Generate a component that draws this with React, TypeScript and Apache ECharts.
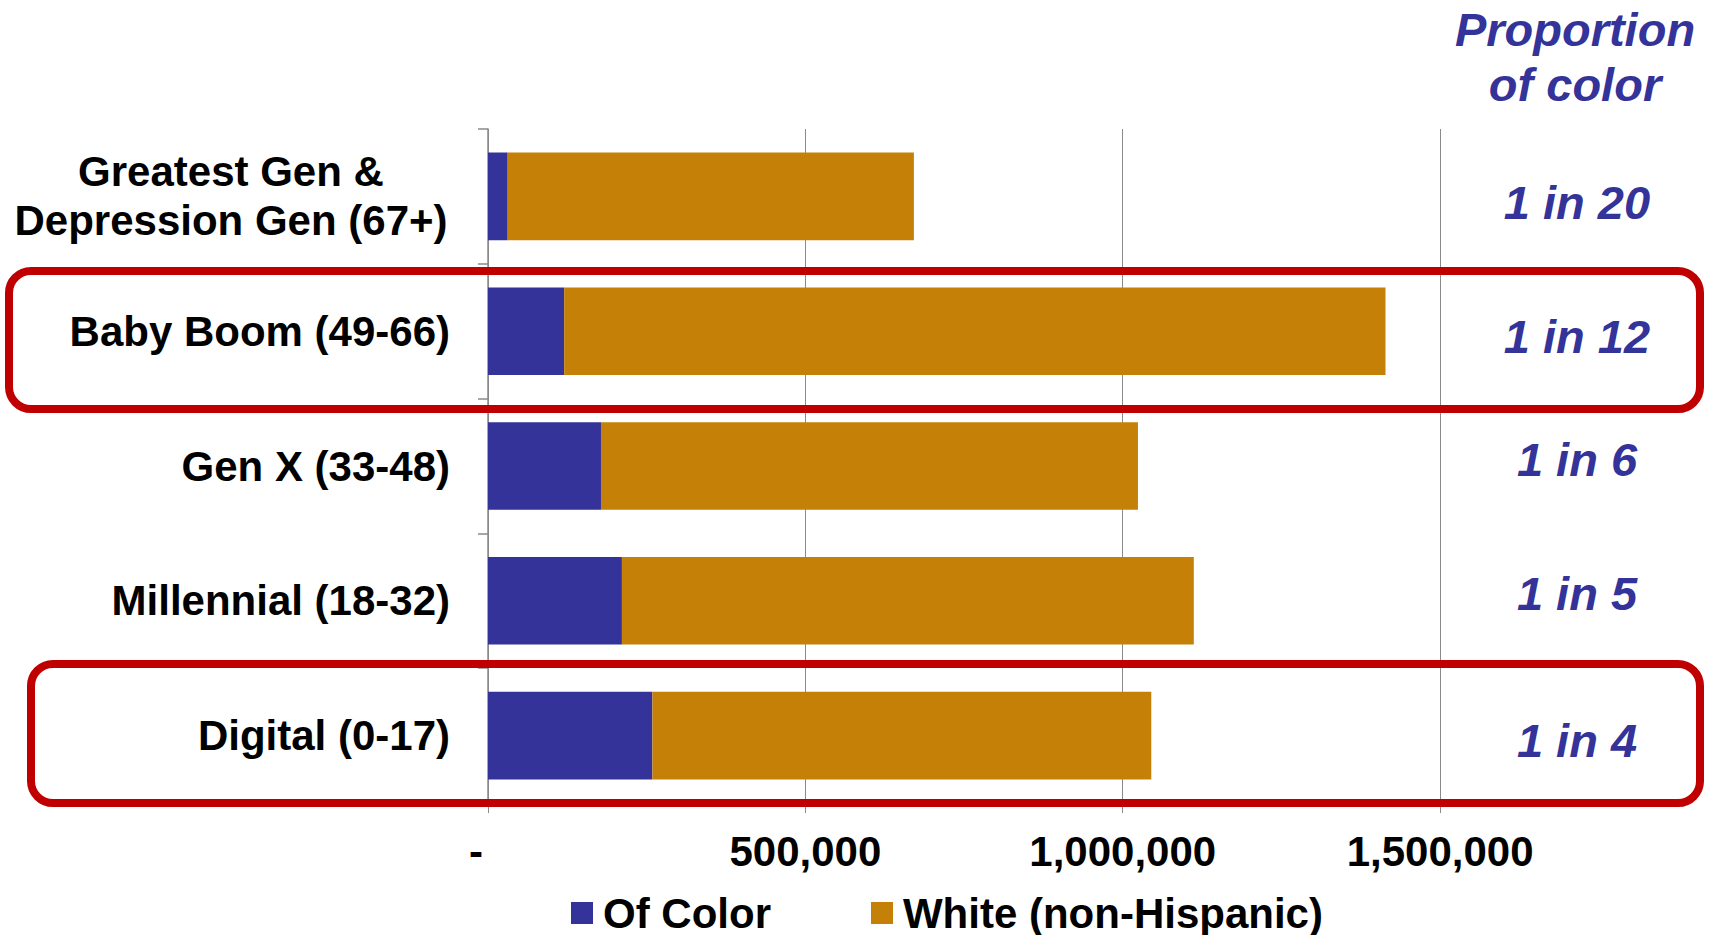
import React, { useEffect, useRef } from "react";
import * as echarts from "echarts";

const categories = [
  "Greatest Gen &\nDepression Gen (67+)",
  "Baby Boom (49-66)",
  "Gen X (33-48)",
  "Millennial (18-32)",
  "Digital (0-17)",
];
const ofColor = [31000, 120000, 178000, 211000, 259000];
const white = [640000, 1294000, 846000, 901000, 786000];
const proportions = ["1 in 20", "1 in 12", "1 in 6", "1 in 5", "1 in 4"];
const proportionY = [202, 336, 459, 593, 740];
const seriesNames = ["Of Color", "White (non-Hispanic)"];

const FONT = "'Liberation Sans', Arial, sans-serif";
const BLUE = "#333399";
const GOLD = "#C58008";
const RED = "#C00000";
const GRAY = "#8A8A8A";

export default function App() {
  const ref = useRef<HTMLDivElement>(null);
  useEffect(() => {
    document.body.style.margin = "0";
    const chart = echarts.init(ref.current!, null, { renderer: "svg" });
    const option: any = {
      animation: false,
      backgroundColor: "#ffffff",
      textStyle: { fontFamily: FONT },
      grid: { left: 488, top: 129, bottom: 132, right: 0, containLabel: false },
      legend: {
        data: seriesNames,
        left: 566,
        top: 887,
        icon: "rect",
        itemWidth: 22,
        itemHeight: 22,
        itemGap: 100,
        textStyle: {
          fontFamily: FONT,
          fontWeight: "bold",
          fontSize: 42,
          color: "#000",
          padding: [0, 0, 0, 5],
        },
      },
      xAxis: {
        type: "value",
        min: 0,
        max: 1930000,
        interval: 500000,
        axisLine: { show: false },
        axisTick: { show: true, length: 10, lineStyle: { color: GRAY, width: 1 } },
        splitLine: { show: true, showMaxLine: false, lineStyle: { color: GRAY, width: 1 } },
        axisLabel: {
          margin: 27,
          showMaxLabel: false,
          fontFamily: FONT,
          fontWeight: "bold",
          fontSize: 42,
          color: "#000",
          formatter: (v: number) =>
            v === 0 ? "{d|-}" : v.toLocaleString("en-US"),
          rich: {
            d: {
              fontFamily: FONT,
              fontWeight: "bold",
              fontSize: 42,
              color: "#000",
              padding: [0, 24, 0, 0],
            },
          },
        },
      },
      yAxis: {
        type: "category",
        data: categories,
        inverse: true,
        axisLine: { show: true, lineStyle: { color: GRAY, width: 1.5 } },
        axisTick: { show: true, length: 10, lineStyle: { color: GRAY, width: 1.5 } },
        splitLine: { show: false },
        axisLabel: {
          margin: 38,
          fontFamily: FONT,
          fontWeight: "bold",
          fontSize: 42,
          color: "#000",
          lineHeight: 49,
          formatter: (v: string) =>
            v.includes("\n")
              ? v
                  .split("\n")
                  .map((l) => `{c|${l}}`)
                  .join("\n")
              : v,
          rich: {
            c: {
              width: 438,
              align: "center",
              fontFamily: FONT,
              fontWeight: "bold",
              fontSize: 42,
              lineHeight: 49,
              color: "#000",
            },
          },
        },
      },
      series: [
        {
          name: seriesNames[0],
          type: "bar",
          stack: "total",
          data: ofColor,
          barWidth: "65%",
          itemStyle: { color: BLUE },
        },
        {
          name: seriesNames[1],
          type: "bar",
          stack: "total",
          data: white,
          barWidth: "65%",
          itemStyle: { color: GOLD },
        },
      ],
      graphic: [
        {
          type: "text",
          x: 1575,
          y: 57,
          z: 100,
          style: {
            text: "Proportion\nof color",
            fill: BLUE,
            font: `italic bold 47px ${FONT}`,
            lineHeight: 55,
            textAlign: "center",
            textVerticalAlign: "middle",
          },
        },
        ...proportions.map((t, i) => ({
          type: "text",
          x: 1577,
          y: proportionY[i],
          z: 100,
          style: {
            text: t,
            fill: BLUE,
            font: `italic bold 47px ${FONT}`,
            textAlign: "center",
            textVerticalAlign: "middle",
          },
        })),
        {
          type: "rect",
          z: 100,
          shape: { x: 9, y: 271, width: 1691, height: 138, r: 22 },
          style: { fill: "none", stroke: RED, lineWidth: 8 },
        },
        {
          type: "rect",
          z: 100,
          shape: { x: 31, y: 664, width: 1669, height: 139, r: 22 },
          style: { fill: "none", stroke: RED, lineWidth: 8 },
        },
      ],
    };
    chart.setOption(option);
    return () => chart.dispose();
  }, []);
  return <div ref={ref} style={{ width: 1713, height: 935 }} />;
}
